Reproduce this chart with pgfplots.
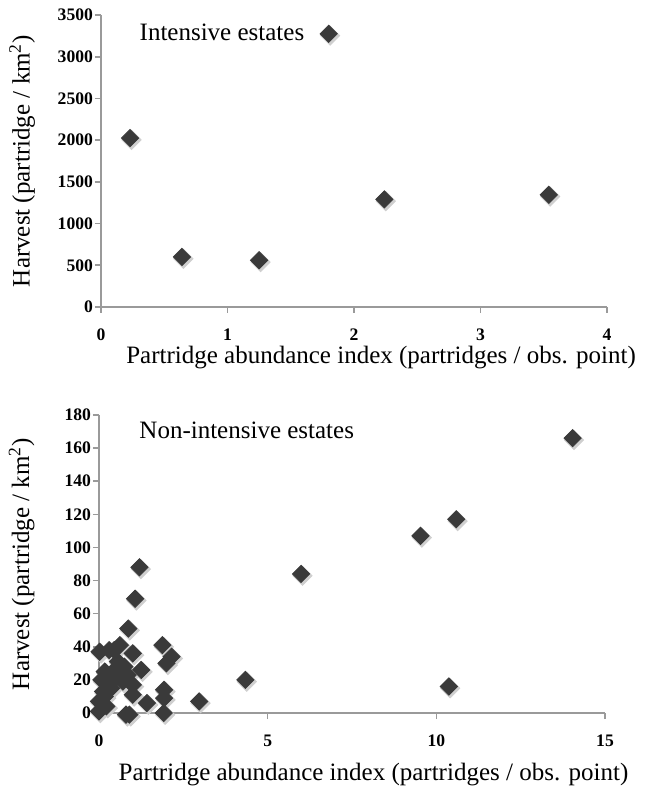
\documentclass[border=0pt]{standalone}
\usepackage{fontspec}
\setmainfont{Liberation Serif}
\usepackage{pgfplots}
\pgfplotsset{compat=1.18}

\definecolor{markgray}{HTML}{3A3A3A}
\definecolor{shadegray}{HTML}{CFCFCF}
\definecolor{axgray}{HTML}{9A9A9A}

\pgfplotsset{
  partridge/.style={
    scale only axis, width=253pt,
    axis x line*=bottom, axis y line*=left,
    axis line style={axgray, line width=0.8pt},
    tick style={axgray, line width=0.8pt},
    major tick length=3pt,
    tick align=outside,
    clip=false,
    ticklabel style={font=\bfseries\fontsize{8.8}{10}\selectfont},
    x tick label style={yshift=-4.5pt},
    y tick label style={xshift=2.5pt},
    /pgf/number format/assume math mode=true,
    /pgf/number format/1000 sep={},
    label style={font=\fontsize{12.5}{14}\selectfont},
    ylabel={Harvest (partridge / km\textsuperscript{2})},
    xlabel={Partridge abundance index (partridges / obs. point)},
  },
  diam/.style={only marks, mark=square*, mark size=3.05pt,
    mark options={rotate=45, fill=markgray, draw=markgray}},
  shade/.style={only marks, mark=square*, mark size=3.4pt,
    mark options={xshift=0.7pt, yshift=-0.9pt, rotate=45, fill=shadegray, draw=shadegray}},
}

\pgfplotstableread{
x y
0.23 2025
0.64 600
1.25 560
1.80 3275
2.24 1290
3.54 1345
}\intensive

\pgfplotstableread{
x y
14.04 166
10.59 117
9.53 107
5.99 84
4.34 20
10.37 16
2.97 7
1.20 88
1.07 69
0.87 51
1.88 41
2.15 34
2.00 30
1.25 26
1.00 36
1.93 14
1.93 9
1.92 0
1.42 6
0.80 -1
0.90 -1
1.00 11
1.00 17
0.02 37
0.30 38
0.45 38
0.62 41
0.56 31
0.51 27
0.75 28
0.17 25
0.07 20
0.36 15
0.71 19
0.55 22
0.40 20
0.00 7
0.17 10
0.00 1
0.22 4
0.12 13
0.85 23
0.25 18
}\nonintensive

\begin{document}
\begin{tikzpicture}
\path[use as bounding box] (-49.5pt,-39pt) rectangle (273.5pt,356.5pt);

% intensive estates
\begin{axis}[partridge,
  at={(1pt,203pt)}, height=146pt,
  xmin=0, xmax=4, xtick={0,1,2,3,4},
  ymin=0, ymax=3500, ytick={0,500,...,3500},
  xlabel style={at={(axis description cs:1.071,-0.195)}, anchor=base east},
  ylabel style={at={(axis description cs:-0.156,0.5)}, anchor=center},
]
\addplot[shade] table {\intensive};
\addplot[diam] table {\intensive};
\node[anchor=base west, font=\fontsize{12.5}{14}\selectfont] at (axis cs:0.25,3200) {Intensive estates};
\end{axis}

% non-intensive estates
\begin{axis}[partridge,
  at={(0pt,0pt)}, height=149pt,
  xmin=0, xmax=15, xtick={0,5,10,15},
  ymin=0, ymax=180, ytick={0,20,...,180},
  xlabel style={at={(axis description cs:1.06,-0.228)}, anchor=base east},
  ylabel style={at={(axis description cs:-0.153,0.5)}, anchor=center},
]
\addplot[shade] table {\nonintensive};
\addplot[diam] table {\nonintensive};
\node[anchor=base west, font=\fontsize{12.5}{14}\selectfont] at (axis cs:0.99,166) {Non-intensive estates};
\end{axis}
\end{tikzpicture}
\end{document}
